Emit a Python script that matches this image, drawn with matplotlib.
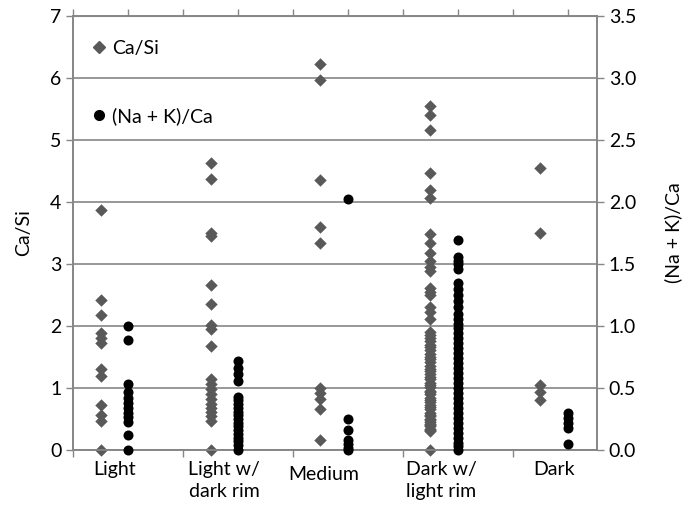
import matplotlib
matplotlib.use("Agg")
import matplotlib.pyplot as plt
from matplotlib.lines import Line2D

plt.rcParams['font.family'] = ['Lato', 'DejaVu Sans']

# categories and x positions (diamonds left, circles right of each group)
categorias = ['Light', 'Light w/\ndark rim', 'Medium', 'Dark w/\nlight rim', 'Dark']
x_casi = [0.5, 2.5, 4.5, 6.5, 8.5]
x_nak = [1.0, 3.0, 5.0, 7.0, 9.0]
x_etiquetas = [0.75, 2.75, 4.55, 6.7, 8.75]

# Ca/Si (left axis)
casi_light = [3.87, 2.42, 2.18, 1.89, 1.80, 1.72, 1.30, 1.20, 0.72, 0.56, 0.47, 0.0]
casi_light_rim = [4.62, 4.37, 3.50, 3.45, 2.66, 2.35, 2.02, 1.95, 1.68, 1.15, 1.07,
                  0.98, 0.90, 0.82, 0.75, 0.68, 0.62, 0.55, 0.47, 0.0]
casi_medium = [6.23, 5.96, 4.36, 3.59, 3.33, 1.00, 0.92, 0.82, 0.66, 0.16]
casi_dark_rim = [5.55, 5.40, 5.16, 4.47, 4.19, 4.06, 3.48, 3.33, 3.17, 3.04, 2.95,
                 2.88, 2.62, 2.55, 2.50, 2.30, 2.22, 2.12, 1.90, 1.86, 1.80, 1.76,
                 1.70, 1.66, 1.62, 1.55, 1.50, 1.46, 1.42, 1.35, 1.31, 1.28, 1.22,
                 1.18, 1.15, 1.08, 1.05, 1.02, 0.96, 0.93, 0.90, 0.84, 0.81, 0.78,
                 0.72, 0.69, 0.66, 0.60, 0.57, 0.55, 0.50, 0.48, 0.46, 0.42, 0.40,
                 0.38, 0.34, 0.32, 0.30, 0.0]
casi_dark = [4.55, 3.50, 1.05, 0.94, 0.81]

# (Na + K)/Ca (right axis)
nak_light = [1.00, 0.89, 0.53, 0.47, 0.42, 0.38, 0.34, 0.30, 0.27, 0.23, 0.12, 0.0]
nak_light_rim = [0.72, 0.66, 0.61, 0.56, 0.43, 0.40, 0.37, 0.34, 0.31, 0.28, 0.25,
                 0.22, 0.19, 0.16, 0.13, 0.10, 0.07, 0.04, 0.0]
nak_medium = [2.02, 0.25, 0.16, 0.08, 0.05, 0.02, 0.0]
nak_dark_rim = [1.69, 1.56, 1.52, 1.50, 1.46, 1.35, 1.30, 1.25, 1.20, 1.15, 1.10,
                1.06, 1.02, 0.98, 0.94, 0.90, 0.86, 0.82, 0.78, 0.74, 0.70, 0.66,
                0.62, 0.58, 0.54, 0.50, 0.46, 0.42, 0.38, 0.34, 0.30, 0.26, 0.22,
                0.18, 0.14, 0.10, 0.06, 0.03, 0.0]
nak_dark = [0.30, 0.26, 0.22, 0.18, 0.05]

casi = [casi_light, casi_light_rim, casi_medium, casi_dark_rim, casi_dark]
nak = [nak_light, nak_light_rim, nak_medium, nak_dark_rim, nak_dark]

gris = '#868686'
gris_diamante = '#595959'
tam = 14

fig = plt.figure(figsize=(6.83, 5.27), dpi=100)
ax = fig.add_axes([0.107, 0.146, 0.767, 0.824])
ax2 = ax.twinx()

for xc, vals in zip(x_casi, casi):
    ax.scatter([xc] * len(vals), vals, marker='D', s=40, color=gris_diamante,
               linewidths=0, zorder=3, clip_on=False)
for xn, vals in zip(x_nak, nak):
    ax2.scatter([xn] * len(vals), vals, marker='o', s=52, color='black',
                linewidths=0, zorder=3, clip_on=False)

ax.set_xlim(0, 9.53)
ax.set_ylim(0, 7)
ax2.set_ylim(0, 3.5)
ax.set_yticks(range(0, 8))
ax2.set_yticks([0, 0.5, 1.0, 1.5, 2.0, 2.5, 3.0, 3.5])
ax2.set_yticklabels([f'{v:.1f}' for v in ax2.get_yticks()])
ax.set_xticks([0, 2, 4, 6, 8])
ax.set_xticklabels([])

ax.grid(axis='y', color=gris, linewidth=1.2)
ax.set_axisbelow(True)

for a in (ax, ax2):
    for s in a.spines.values():
        s.set_color(gris)
        s.set_linewidth(1.2)
    a.tick_params(colors=gris, labelcolor='black', labelsize=tam, length=5, width=1)

# top axis with ticks every unit
axt = ax.secondary_xaxis('top')
axt.set_xticks(range(0, 10))
axt.set_xticklabels([])
axt.tick_params(colors=gris, length=5, width=1)
axt.spines['top'].set_color(gris)

ax.set_ylabel('Ca/Si', fontsize=tam, labelpad=13)
ax2.set_ylabel('(Na + K)/Ca', fontsize=tam, labelpad=20)

for xe, nombre in zip(x_etiquetas, categorias):
    dy = -0.25 if '\n' not in nombre and nombre == 'Medium' else -0.17
    ax.text(xe, dy, nombre, ha='center', va='top', fontsize=tam,
            linespacing=1.35, transform=ax.transData)

handles = [
    Line2D([], [], marker='D', linestyle='', color=gris_diamante, markersize=6.5),
    Line2D([], [], marker='o', linestyle='', color='black', markersize=7),
]
ax.legend(handles, ['Ca/Si', '(Na + K)/Ca'], loc='upper left', frameon=False,
          fontsize=tam, labelspacing=2.55, handletextpad=0.0, handlelength=1.3,
          borderaxespad=0.3, bbox_to_anchor=(0.0, 0.975))

fig.savefig('out.png', dpi=100)
